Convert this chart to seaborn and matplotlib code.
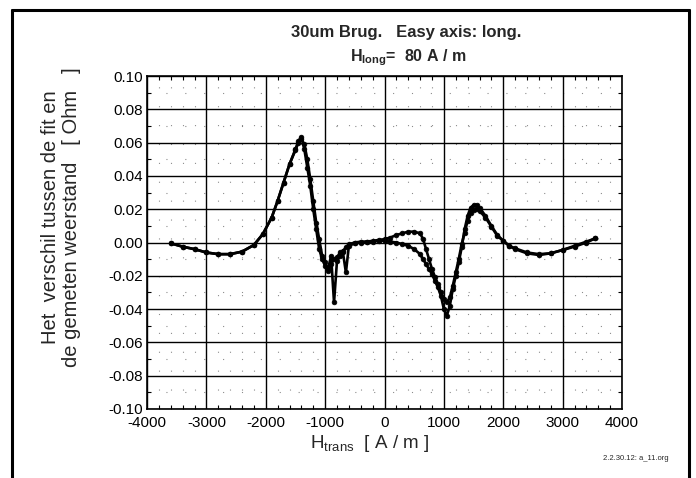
import matplotlib
matplotlib.use("Agg")
import matplotlib.pyplot as plt
from matplotlib.lines import Line2D
from matplotlib.ticker import MultipleLocator, FormatStrFormatter
import numpy as np
import pandas as pd
import seaborn as sns

# Transverse field sweep [A/m]
h_trans = [-3600, -3400, -3200, -3000, -2800, -2600, -2400, -2200, -2050, -1900,
           -1800, -1700, -1600, -1500, -1450, -1400, -1350, -1300, -1250, -1200,
           -1150, -1100, -1050, -1000, -950, -900, -850, -800, -750, -700,
           -650, -600, -500, -400, -300, -200, -100, 0, 100, 200,
           300, 400, 500, 600, 650, 700, 750, 800, 850, 900,
           950, 1000, 1050, 1100, 1150, 1200, 1250, 1300, 1350, 1400,
           1450, 1500, 1550, 1600, 1700, 1800, 1900, 2000, 2100, 2200,
           2400, 2600, 2800, 3000, 3200, 3400, 3550]

# Residual (fit - measured) [Ohm], first sweep
resid_a = [-0.0005, -0.0025, -0.0040, -0.0060, -0.0070, -0.0070, -0.0055, -0.0015, 0.0050, 0.0150,
           0.0250, 0.0360, 0.0470, 0.0560, 0.0610, 0.0635, 0.0560, 0.0450, 0.0340, 0.0200,
           0.0080, -0.0040, -0.0100, -0.0140, -0.0160, -0.0080, -0.0360, -0.0110, -0.0080, -0.0060,
           -0.0180, -0.0020, -0.0005, 0.0000, 0.0005, 0.0005, 0.0010, 0.0010, 0.0005, 0.0000,
           -0.0010, -0.0020, -0.0040, -0.0070, -0.0100, -0.0130, -0.0160, -0.0190, -0.0230, -0.0270,
           -0.0320, -0.0400, -0.0440, -0.0380, -0.0280, -0.0200, -0.0120, -0.0030, 0.0080, 0.0160,
           0.0210, 0.0225, 0.0225, 0.0210, 0.0160, 0.0100, 0.0045, 0.0010, -0.0020, -0.0040,
           -0.0065, -0.0075, -0.0065, -0.0045, -0.0025, 0.0000, 0.0025]

# Residual (fit - measured) [Ohm], return sweep
resid_b = [-0.0005, -0.0025, -0.0040, -0.0060, -0.0070, -0.0070, -0.0055, -0.0015, 0.0050, 0.0150,
           0.0250, 0.0360, 0.0470, 0.0555, 0.0600, 0.0620, 0.0590, 0.0500, 0.0380, 0.0250,
           0.0120, 0.0020, -0.0080, -0.0120, -0.0170, -0.0130, -0.0100, -0.0090, -0.0060, -0.0050,
           -0.0030, -0.0010, 0.0000, 0.0005, 0.0005, 0.0010, 0.0015, 0.0020, 0.0030, 0.0045,
           0.0055, 0.0065, 0.0065, 0.0055, 0.0020, -0.0040, -0.0100, -0.0160, -0.0210, -0.0250,
           -0.0300, -0.0340, -0.0360, -0.0330, -0.0260, -0.0180, -0.0100, -0.0010, 0.0060, 0.0130,
           0.0180, 0.0195, 0.0200, 0.0190, 0.0150, 0.0095, 0.0040, 0.0010, -0.0020, -0.0035,
           -0.0060, -0.0070, -0.0065, -0.0045, -0.0020, 0.0005, 0.0025]

x_ticks = [-4000, -3000, -2000, -1000, 0, 1000, 2000, 3000, 4000]
y_ticks = [-0.10, -0.08, -0.06, -0.04, -0.02, 0.00, 0.02, 0.04, 0.06, 0.08, 0.10]

df = pd.concat([
    pd.DataFrame({"H": h_trans, "dR": resid_a, "sweep": "a"}),
    pd.DataFrame({"H": h_trans[::-1], "dR": resid_b[::-1], "sweep": "b"}),
], ignore_index=True)

sns.set_theme(style="white")
plt.rcParams["font.family"] = ["Liberation Sans", "DejaVu Sans"]
plt.rcParams["axes.unicode_minus"] = False
plt.rcParams["mathtext.fontset"] = "custom"
plt.rcParams["mathtext.rm"] = "Liberation Sans"
plt.rcParams["mathtext.bf"] = "Liberation Sans:bold"

fig = plt.figure(figsize=(6.96, 4.78), dpi=100)
ax = fig.add_axes([147 / 696, 1 - 409 / 478, (622 - 147) / 696, (409 - 76) / 478])

sns.lineplot(data=df, x="H", y="dR", hue="sweep", palette=["black", "black"],
             sort=False, estimator=None, legend=False, ax=ax,
             linewidth=1.9, marker="o", markersize=3.4, markeredgewidth=0.5,
             markeredgecolor="black")

ax.set_xlim(-4000, 4000)
ax.set_ylim(-0.10, 0.10)
ax.set_xticks(x_ticks)
ax.set_yticks(y_ticks)
ax.yaxis.set_major_formatter(FormatStrFormatter("%.2f"))
ax.xaxis.set_minor_locator(MultipleLocator(200))
ax.yaxis.set_minor_locator(MultipleLocator(0.01))
ax.tick_params(which="major", direction="in", length=0, labelsize=11, colors="black")
ax.tick_params(axis="x", which="major", pad=5)
ax.tick_params(axis="y", which="major", pad=3)
ax.tick_params(which="minor", direction="in", length=3, width=0.8, color="black",
               top=True, right=True, bottom=True, left=True)
ax.grid(which="major", color="black", linewidth=1.0)
ax.grid(which="minor", color="black", linewidth=0.8, linestyle=(0, (1, 16)), alpha=0.45)
for s in ax.spines.values():
    s.set_color("black")
    s.set_linewidth(1.2)
ax.set_xlabel("")
ax.set_ylabel("")

# Titles
fig.text(406 / 696, 1 - 33 / 478, "30um Brug.   Easy axis: long.", ha="center", va="center",
         fontsize=12, fontweight="bold")
fig.text(408 / 696, 1 - 58 / 478, r"$\mathbf{H}_{\mathbf{long}}$=  80 A / m", ha="center", va="center",
         fontsize=11.5, fontweight="bold")

# Axis labels
fig.text(61 / 696, 1 - 217 / 478, "Het  verschil tussen de fit en\nde gemeten weerstand   [ Ohm   ]",
         rotation=90, ha="center", va="center", fontsize=14.5, linespacing=1.15, multialignment="center")
fig.text(370 / 696, 1 - 443 / 478, r"$\mathrm{H}_{\mathrm{trans}}$  [ A / m ]", ha="center", va="center",
         fontsize=13.5)
fig.text(636 / 696, 1 - 459 / 478, "2.2.30.12: a_11.org", ha="center", va="center", fontsize=5.5)

# Page frame
W, H = 696, 478
for xs, ys in [((12, 689), (10, 10)), ((12, 12), (10, 478)), ((689, 689), (10, 478))]:
    fig.add_artist(Line2D([x / W for x in xs], [1 - y / H for y in ys], color="black",
                          linewidth=2.2, transform=fig.transFigure))

fig.savefig("out.png", dpi=100, facecolor="white")
